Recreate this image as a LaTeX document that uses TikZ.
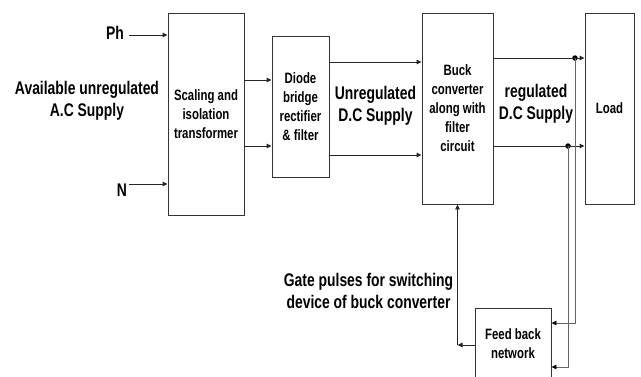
\documentclass[tikz,border=0pt]{standalone}
\usepackage{fontspec}
\setmainfont[FakeStretch=0.76]{Liberation Sans}
\usetikzlibrary{arrows.meta}
\tikzset{
  blk/.style={draw=black!80, line width=0.9pt, inner sep=0pt, align=center,
    font=\bfseries\fontsize{15}{19}\selectfont},
  lbl/.style={inner sep=0pt, align=center, font=\bfseries\fontsize{18.3}{22}\selectfont},
  conn/.style={draw=black!85, line width=0.9pt},
  arr/.style={conn, -{Triangle[length=5pt,width=4.5pt]}},
  fbline/.style={draw=black!60, line width=0.9pt, -{Triangle[length=5pt,width=4.5pt,color=black]}},
  dot/.style={circle, fill=black, inner sep=0pt, minimum size=5.5pt}
}
\begin{document}
\begin{tikzpicture}[x=1pt,y=-1pt]
\useasboundingbox (0,0) rectangle (641,376);
% blocks
\node[blk, minimum width=76pt, minimum height=202pt] (tr) at (206,114) {Scaling and\\isolation\\transformer};
\node[blk, minimum width=57pt, minimum height=141pt] (dd) at (300.5,106.5) {Diode\\bridge\\rectifier\\\& filter};
\node[blk, minimum width=71pt, minimum height=191pt] (bk) at (457.5,108.5) {Buck\\converter\\along with\\filter\\circuit};
\node[blk, minimum width=49pt, minimum height=191pt] (ld) at (609.5,108.5) {Load};
\node[blk, minimum width=76pt, minimum height=72pt] (fb) at (513,344) {Feed back\\network};
% labels
\node[lbl] (ac) at (87,101) {Available unregulated\\A.C Supply};
\node[lbl, anchor=east] (ph) at (124,33) {Ph};
\node[lbl, anchor=east] (nn) at (127,190) {N};
\node[lbl] (udc) at (375.5,106) {Unregulated\\D.C Supply};
\node[lbl] (rdc) at (536,104) {regulated\\D.C Supply};
\node[lbl] (gp) at (368.5,291) {Gate pulses for switching\\device of buck converter};
% coordinates
\coordinate (phs) at (129,35);
\coordinate (ns) at (129,184);
\coordinate (a1) at (0,80);
\coordinate (a2) at (0,146);
\coordinate (b1) at (0,62);
\coordinate (b2) at (0,155);
\coordinate (c1) at (0,58);
\coordinate (c2) at (0,146);
\node[dot] (d1) at (575,58) {};
\node[dot] (d2) at (568,146) {};
\coordinate (e1) at (575,323);
\coordinate (e2) at (568,367);
\coordinate (g) at (457.5,345);
% connectors
\draw[arr] (phs) -- (phs -| tr.west);
\draw[arr] (ns) -- (ns -| tr.west);
\draw[arr] (a1 -| tr.east) -- (a1 -| dd.west);
\draw[arr] (a2 -| tr.east) -- (a2 -| dd.west);
\draw[arr] (b1 -| dd.east) -- (b1 -| bk.west);
\draw[arr] (b2 -| dd.east) -- (b2 -| bk.west);
\draw[arr] (c1 -| bk.east) -- (c1 -| ld.west);
\draw[arr] (c2 -| bk.east) -- (c2 -| ld.west);
\draw[fbline] (d1.center) -- (e1) -- (e1 -| fb.east);
\draw[fbline] (d2.center) -- (e2) -- (e2 -| fb.east);
\draw[arr] (fb.west |- g) -- (g);
\draw[arr] (g) -- (bk.south);
\end{tikzpicture}
\end{document}
